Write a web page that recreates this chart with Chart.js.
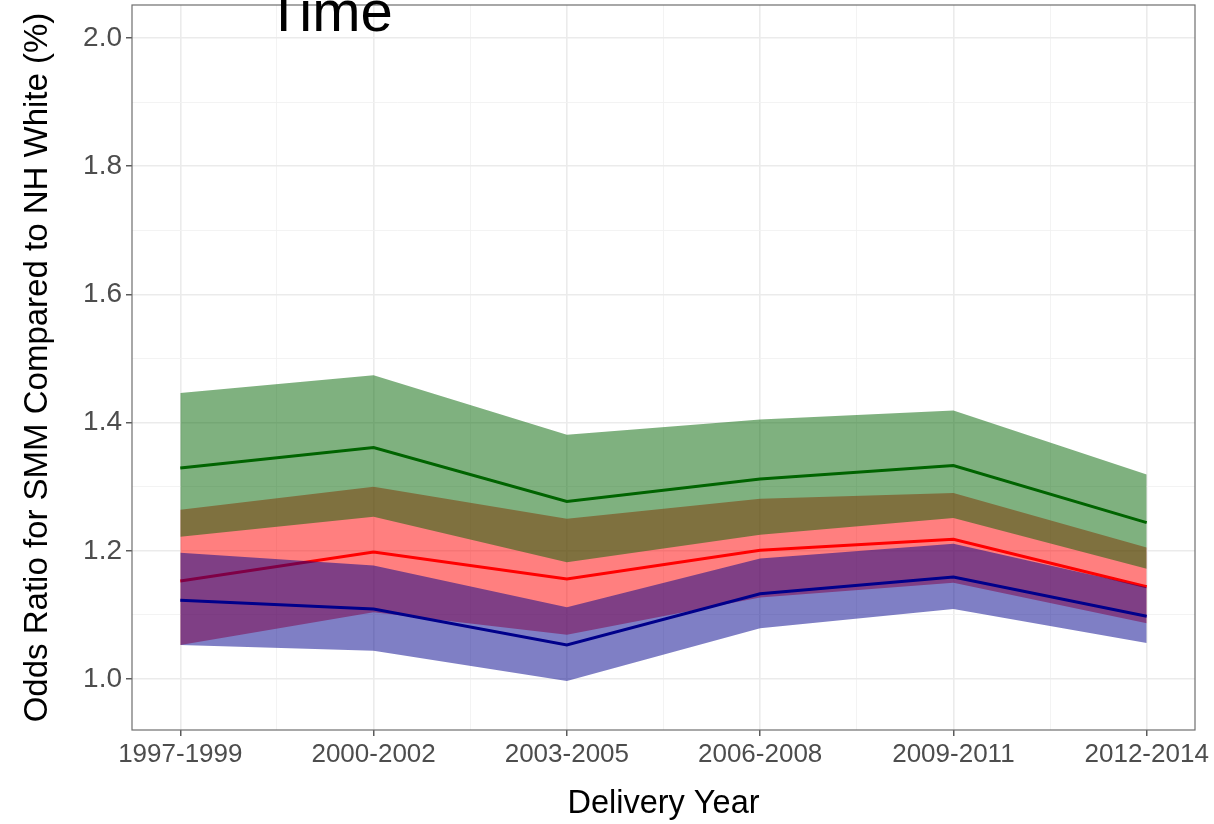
<!DOCTYPE html>
<html>
<head>
<meta charset="utf-8">
<title>SMM odds ratio over time</title>
<script src="https://cdn.jsdelivr.net/npm/chart.js@4/dist/chart.umd.min.js"></script>
<style>
  body { margin: 0; background: #fff; }
  #wrap { position: relative; width: 1214px; height: 824px; overflow: hidden; }
  #plot-title {
    position: absolute; left: 266px; top: -18px;
    font: 58px/58px 'Liberation Sans', Arial, sans-serif; color: #000;
    white-space: nowrap;
  }
</style>
</head>
<body>
<div id="wrap">
  <canvas id="chart" width="1214" height="824"></canvas>
  <div id="plot-title">Time</div>
</div>
<script>
'use strict';

const periods = ['1997-1999', '2000-2002', '2003-2005', '2006-2008', '2009-2011', '2012-2014'];

// odds ratios with 95% CI, one trio per group
const greenUpper = [1.446, 1.474, 1.381, 1.405, 1.419, 1.319];
const greenOR    = [1.329, 1.361, 1.277, 1.312, 1.333, 1.244];
const greenLower = [1.222, 1.253, 1.182, 1.225, 1.251, 1.172];

const redUpper = [1.264, 1.300, 1.250, 1.281, 1.290, 1.205];
const redOR    = [1.153, 1.198, 1.156, 1.201, 1.218, 1.144];
const redLower = [1.053, 1.104, 1.069, 1.127, 1.150, 1.087];

const blueUpper = [1.197, 1.177, 1.112, 1.188, 1.211, 1.143];
const blueOR    = [1.123, 1.109, 1.053, 1.133, 1.159, 1.098];
const blueLower = [1.053, 1.044, 0.997, 1.079, 1.109, 1.056];

const yMajorTicks = [1.0, 1.2, 1.4, 1.6, 1.8, 2.0];
const yMinorTicks = [1.1, 1.3, 1.5, 1.7, 1.9];
const xMinorTicks = [0.5, 1.5, 2.5, 3.5, 4.5];

const FONT = "'Liberation Sans', Arial, sans-serif";

function pts(arr) {
  return arr.map((v, i) => ({ x: i, y: v }));
}

// ribbon = invisible lower edge + upper edge filled down to it
function band(lower, upper, fillColor, order) {
  return [
    { data: pts(lower), borderWidth: 0, pointRadius: 0, fill: false, order },
    { data: pts(upper), borderWidth: 0, pointRadius: 0, fill: '-1', backgroundColor: fillColor, order },
  ];
}

function line(values, color, order) {
  return { data: pts(values), borderColor: color, borderWidth: 3, pointRadius: 0, fill: false, order };
}

// higher order is painted first
const datasets = [
  ...band(redLower, redUpper, 'rgba(255,0,0,0.5)', 10),
  line(redOR, '#ff0000', 9),
  ...band(greenLower, greenUpper, 'rgba(0,100,0,0.5)', 8),
  ...band(blueLower, blueUpper, 'rgba(0,0,139,0.5)', 7),
  line(blueOR, '#00008b', 6),
  line(greenOR, '#006400', 5),
];

const panelBorder = {
  id: 'panelBorder',
  afterDraw(chart) {
    const { ctx, chartArea: a } = chart;
    ctx.save();
    ctx.strokeStyle = '#6e6e6e';
    ctx.lineWidth = 1.2;
    ctx.strokeRect(a.left, a.top, a.right - a.left, a.bottom - a.top);
    ctx.restore();
  },
};

const isMinor = (ctx, minors) => ctx.tick && minors.includes(ctx.tick.value);

new Chart(document.getElementById('chart'), {
  type: 'line',
  data: { datasets },
  plugins: [panelBorder],
  options: {
    responsive: false,
    animation: false,
    layout: { padding: { top: 5, right: 19, left: 0, bottom: 0 } },
    plugins: { legend: { display: false }, tooltip: { enabled: false } },
    elements: { line: { tension: 0 } },
    scales: {
      x: {
        type: 'linear',
        min: -0.25,
        max: 5.25,
        afterBuildTicks: s => {
          s.ticks = periods.map((_, i) => ({ value: i }))
            .concat(xMinorTicks.map(v => ({ value: v })))
            .sort((a, b) => a.value - b.value);
        },
        afterFit: s => { s.height = 94; s.paddingLeft = 0; s.paddingRight = 0; },
        ticks: {
          autoSkip: false, maxRotation: 0, minRotation: 0,
          color: '#4d4d4d', padding: 3,
          font: { family: FONT, size: 26 },
          callback: v => (Number.isInteger(v) ? periods[v] : ''),
        },
        grid: {
          color: c => (isMinor(c, xMinorTicks) ? '#f2f2f2' : '#ebebeb'),
          lineWidth: c => (isMinor(c, xMinorTicks) ? 0.9 : 1.6),
          tickColor: c => (isMinor(c, xMinorTicks) ? 'rgba(0,0,0,0)' : '#333'),
          tickLength: 6,
          tickWidth: 1.2,
        },
        border: { display: false },
        title: {
          display: true, text: 'Delivery Year', color: '#000',
          font: { family: FONT, size: 32.5 }, padding: { top: 0, bottom: 0 },
        },
      },
      y: {
        min: 0.9204,
        max: 2.0515,
        afterBuildTicks: s => {
          s.ticks = yMajorTicks.concat(yMinorTicks)
            .sort((a, b) => a - b)
            .map(v => ({ value: v }));
        },
        afterFit: s => { s.width = 132; s.paddingTop = 0; s.paddingBottom = 0; },
        ticks: {
          autoSkip: false, color: '#4d4d4d', padding: 4,
          font: { family: FONT, size: 28 },
          callback: v => (yMajorTicks.includes(v) ? v.toFixed(1) : ''),
        },
        grid: {
          color: c => (isMinor(c, yMinorTicks) ? '#f2f2f2' : '#ebebeb'),
          lineWidth: c => (isMinor(c, yMinorTicks) ? 0.9 : 1.6),
          tickColor: c => (isMinor(c, yMinorTicks) ? 'rgba(0,0,0,0)' : '#333'),
          tickLength: 6,
          tickWidth: 1.2,
        },
        border: { display: false },
        title: {
          display: true, text: 'Odds Ratio for SMM Compared to NH White (%)', color: '#000',
          font: { family: FONT, size: 33 }, padding: { top: 18, bottom: 0 },
        },
      },
    },
  },
});
</script>
</body>
</html>
